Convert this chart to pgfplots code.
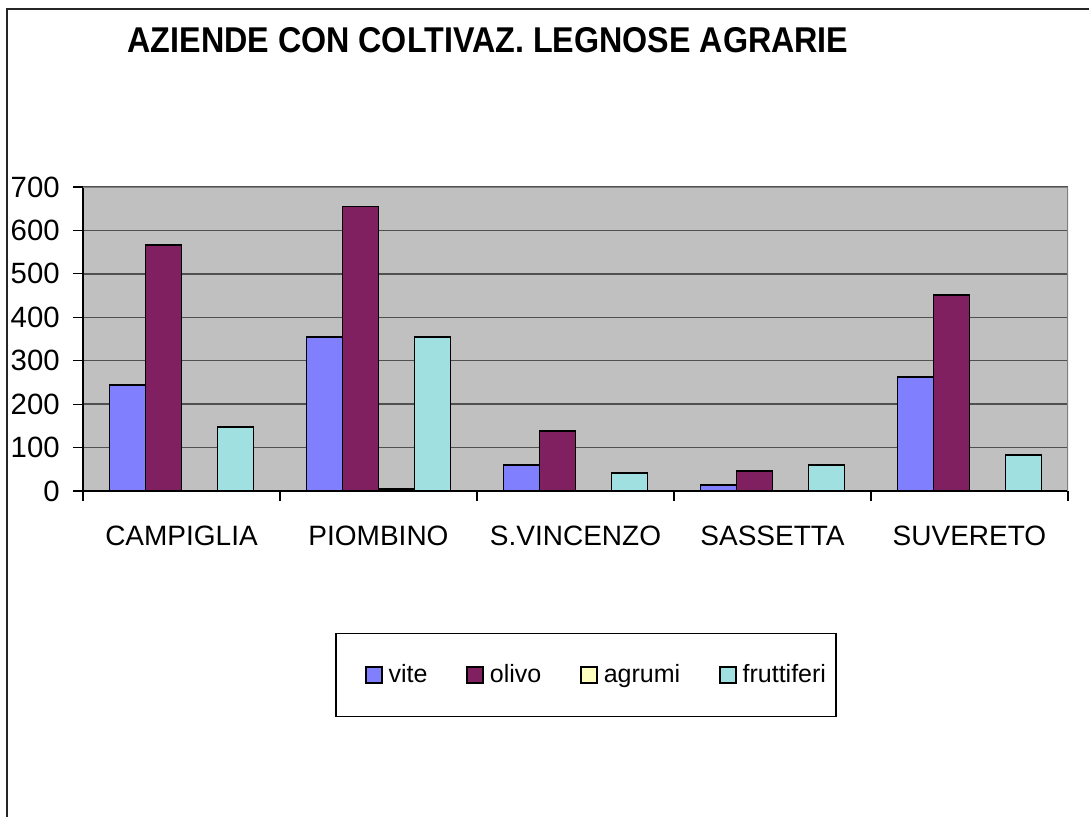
\documentclass[border=0pt]{standalone}
\usepackage{fontspec}
\setmainfont{Liberation Sans}
\usepackage{graphicx}
\usepackage{pgfplots}
\usepackage{pgfplotstable}
\pgfplotsset{compat=1.18}
\definecolor{cvite}{HTML}{8080FF}
\definecolor{colivo}{HTML}{802060}
\definecolor{cagrumi}{HTML}{FFFFC0}
\definecolor{cfrutt}{HTML}{A0E0E0}
\definecolor{bgray}{HTML}{C0C0C0}
\definecolor{ggray}{HTML}{505050}
\definecolor{fgray}{HTML}{808080}
\pgfplotstableread{
x vite olivo agrumi frutt
0 244 567 0 147
1 355 655 4 355
2 60 139 0 41
3 14 47 0 60
4 263 452 0 83
}\datatab
\begin{document}
\begin{tikzpicture}[x=1pt,y=1pt]
\useasboundingbox (0,0) rectangle (653.4,-490.2);
\draw[line width=0.9pt, color=black!85] (4.2,-490.2) -- (4.2,-5.4) -- (653.4,-5.4);
\node[font=\fontsize{21.5}{24}\selectfont\bfseries, inner sep=0pt] at (292.8,-24) {\scalebox{0.9}[1]{AZIENDE CON COLTIVAZ. LEGNOSE AGRARIE}};
\begin{axis}[
  at={(49.8pt,-294.6pt)}, anchor=south west,
  scale only axis, width=591pt, height=182.4pt,
  xmin=-0.5, xmax=4.5, ymin=0, ymax=700,
  ybar=0pt, bar width=21.6pt,
  axis background/.style={fill=bgray},
  axis x line*=bottom, axis y line*=left,
  axis line style={black, line width=0.7pt, -},
  ytick={0,100,...,700},
  xtick={0,1,2,3,4},
  xticklabels={CAMPIGLIA,PIOMBINO,S.VINCENZO,SASSETTA,SUVERETO},
  minor xtick={-0.5,0.5,1.5,2.5,3.5,4.5},
  tick align=outside,
  major tick length=6pt, minor tick length=6pt,
  x tick style={draw=none},
  minor x tick style={draw=black, line width=0.7pt},
  y tick style={draw=black, line width=0.7pt},
  ymajorgrids, grid style={draw=ggray, line width=0.8pt},
  /pgf/number format/assume math mode=true,
  yticklabel style={font=\fontsize{17.6}{20}\selectfont, inner sep=0pt, anchor=east, xshift=-7.8pt},
  xticklabel style={font=\fontsize{16.8}{20}\selectfont, inner sep=0pt, anchor=north, yshift=-15pt},
  legend columns=4,
  legend cell align=left,
  legend style={at={(0.5107,-0.6053)}, anchor=center, draw=black, line width=0.7pt,
    font=\fontsize{15}{18}\selectfont, inner xsep=2.5pt, inner ysep=18.5pt,
    /tikz/every even column/.append style={column sep=4.9pt},
    nodes={inner xsep=3.5pt, inner ysep=0pt}},
  legend image code/.code={\path (-14.9pt,0pt); \draw[#1, draw=black, line width=1pt] (0pt,-4.8pt) rectangle (9.6pt,4.8pt);},
  every axis plot/.append style={draw=black, line width=1.1pt},
]
\addplot[fill=cvite] table[x=x, y=vite] {\datatab};
\addplot[fill=colivo] table[x=x, y=olivo] {\datatab};
\addplot[fill=cagrumi] table[x=x, y=agrumi] {\datatab};
\addplot[fill=cfrutt] table[x=x, y=frutt] {\datatab};
\legend{vite,olivo,agrumi,fruttiferi}
\draw[fgray, line width=0.8pt] (axis cs:4.5,0) -- (axis cs:4.5,700) -- (axis cs:-0.5,700);
\end{axis}
\end{tikzpicture}
\end{document}
